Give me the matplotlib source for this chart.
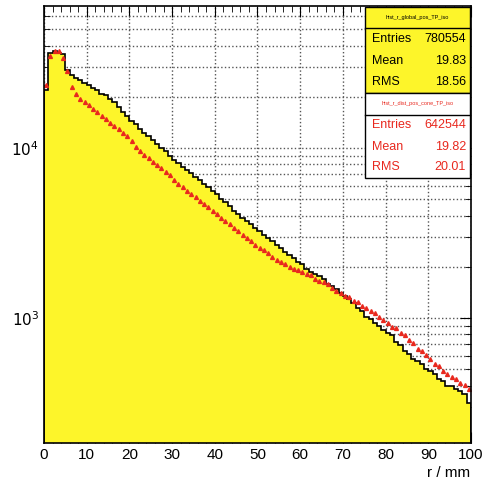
import numpy as np
import matplotlib
matplotlib.use("Agg")
import matplotlib.pyplot as plt
from matplotlib.ticker import MultipleLocator, LogLocator, NullFormatter, FixedLocator

plt.rcParams['font.family'] = ['Liberation Sans', 'DejaVu Sans']

# bin edges in r / mm (1 mm bins)
bin_edges = np.arange(0, 101, 1)

# yellow histogram (black outline)
counts_ref = [21900, 36300, 37200, 36300, 35500, 28800, 26900, 25700, 25100, 24000,
              23400, 22400, 21900, 20900, 20400, 19500, 18600, 17400, 16200, 15500,
              14500, 13800, 12900, 12300, 11700, 11200, 10500, 10000, 9550, 8910,
              8510, 8130, 7760, 7410, 7080, 6760, 6460, 6170, 5890, 5620,
              5370, 5010, 4790, 4570, 4270, 4070, 3890, 3720, 3550, 3390,
              3240, 3090, 2950, 2820, 2690, 2570, 2450, 2340, 2240, 2140,
              2080, 1950, 1860, 1820, 1760, 1700, 1580, 1550, 1480, 1410,
              1350, 1290, 1230, 1150, 1100, 1020, 990, 933, 900, 851,
              813, 790, 724, 692, 640, 617, 570, 562, 537, 500,
              490, 468, 437, 427, 400, 398, 380, 372, 355, 316]

# red markers
counts_cmp = [23400, 34700, 37200, 37200, 33900, 28200, 22900, 20900, 19500, 18600,
              17800, 17000, 16200, 15500, 14800, 14100, 13500, 12900, 12300, 11700,
              11000, 10200, 9550, 9120, 8710, 8320, 7940, 7590, 7240, 6920,
              6460, 6170, 5890, 5620, 5370, 5130, 4900, 4680, 4470, 4270,
              4070, 3890, 3720, 3550, 3390, 3240, 3090, 2950, 2820, 2690,
              2570, 2510, 2400, 2290, 2190, 2140, 2090, 2000, 1950, 1910,
              1860, 1820, 1780, 1700, 1660, 1620, 1580, 1510, 1450, 1410,
              1350, 1320, 1260, 1250, 1170, 1150, 1100, 1070, 1020, 977,
              933, 891, 870, 813, 790, 741, 708, 661, 640, 603,
              575, 537, 520, 490, 468, 447, 440, 417, 405, 380]

stats_ref = ["hist_r_global_pos_TP_iso", "780554", "19.83", "18.56"]
stats_cmp = ["hist_r_dist_pos_cone_TP_iso", "642544", "19.82", "20.01"]

fig = plt.figure(figsize=(4.86, 4.91), dpi=100)
ax = fig.add_axes([0.0905, 0.0978, 0.8786, 0.89])

ax.stairs(counts_ref, bin_edges, fill=True, color='#fdf52a', zorder=2)
ax.stairs(counts_ref, bin_edges, color='black', lw=1.2, zorder=3)
centers = 0.5 * (bin_edges[:-1] + bin_edges[1:])
ax.plot(centers, counts_cmp, ls='none', marker='^', ms=2.8, color='#e8281e',
        mec='#e8281e', zorder=4)

ax.set_yscale('log')
ax.set_xlim(0, 100)
ax.set_ylim(184, 68400)

ax.xaxis.set_major_locator(MultipleLocator(10))
ax.xaxis.set_minor_locator(MultipleLocator(2))
ax.yaxis.set_major_locator(FixedLocator([1e3, 1e4]))
ax.yaxis.set_minor_locator(LogLocator(base=10, subs=np.arange(2, 10)))
ax.yaxis.set_minor_formatter(NullFormatter())
ax.set_yticklabels([r'$10^3$', r'$10^4$'])

ax.tick_params(which='both', direction='in', top=True, right=True, labelsize=11)
ax.tick_params(which='major', length=8)
ax.tick_params(which='minor', length=4)
ax.grid(True, which='major', ls=':', color='#555555', lw=1.0, zorder=1)
ax.grid(True, which='minor', axis='y', ls=':', color='#555555', lw=1.0, zorder=1)
ax.set_axisbelow(True)
for s in ax.spines.values():
    s.set_linewidth(1.2)
    s.set_zorder(5)

fig.text(0.968, 0.022, 'r / mm', ha='right', va='bottom', fontsize=11)


def stat_box(y_top, y_bot, y_sep, face, col, vals):
    x0, x1 = 365 / 486, 470 / 486
    b = plt.Rectangle((x0, 1 - y_bot / 491), x1 - x0, (y_bot - y_top) / 491,
                      transform=fig.transFigure, facecolor=face,
                      edgecolor='black', lw=1.0, zorder=10)
    fig.add_artist(b)
    fig.add_artist(plt.Line2D([x0, x1], [1 - y_sep / 491] * 2,
                              transform=fig.transFigure, color='black', lw=1.0, zorder=11))
    fig.text((x0 + x1) / 2, 1 - (y_top + y_sep) / 2 / 491, vals[0], ha='center',
             va='center', fontsize=4, color=col, zorder=12)
    rows = ['Entries', 'Mean', 'RMS']
    step = (y_bot - y_sep) / 3
    for i, name in enumerate(rows):
        yy = 1 - (y_sep + step * (i + 0.5)) / 491
        fig.text(372 / 486, yy, name, ha='left', va='center', fontsize=9, color=col, zorder=12)
        fig.text(466 / 486, yy, vals[i + 1], ha='right', va='center', fontsize=9, color=col, zorder=12)


stat_box(7, 93, 28, '#fdf52a', 'black', stats_ref)
stat_box(93, 178, 115, 'white', '#e8281e', stats_cmp)

fig.savefig('out.png', dpi=100)
